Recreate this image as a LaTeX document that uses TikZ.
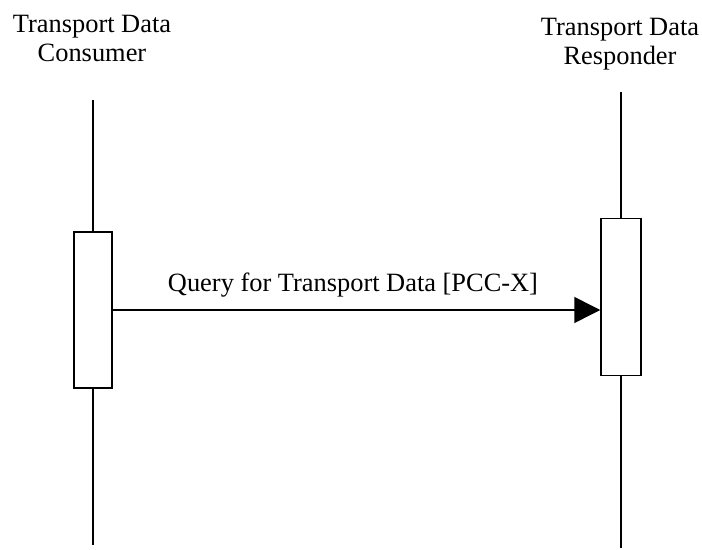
\documentclass[tikz,border=0pt]{standalone}
\usepackage{fontspec}
\setmainfont{Liberation Serif}
\usetikzlibrary{arrows.meta}
\begin{document}
\begin{tikzpicture}[x=1bp,y=-1bp,
  every node/.style={font=\fontsize{26.5}{29.5}\selectfont, inner sep=0pt},
  life/.style={line width=1.5bp},
  actbox/.style={draw, line width=1.5bp, fill=white, inner sep=0pt},
  msg/.style={line width=1.5bp, -{Triangle[length=26bp,width=26bp]}}]
\useasboundingbox (0,0) rectangle (702,550);
\node[align=center, anchor=base] (cons) at (92,62) {Transport Data\\Consumer};
\node[align=center, anchor=base] (resp) at (620,65) {Transport Data\\Responder};
\coordinate (lt) at (93,100);
\coordinate (lb) at (93,545);
\coordinate (rt) at (621,92);
\coordinate (rb) at (621,548);
\draw[life] (lt) -- (lb);
\draw[life] (rt) -- (rb);
\node[actbox, minimum width=38bp, minimum height=156bp] (la) at (93,310) {};
\node[actbox, minimum width=40bp, minimum height=157bp] (ra) at (621,297) {};
\draw[msg] (la.east |- 0,310) -- (ra.west |- 0,310);
\node[anchor=base] (lbl) at (353,291) {Query for Transport Data [PCC-X]};
\end{tikzpicture}
\end{document}
